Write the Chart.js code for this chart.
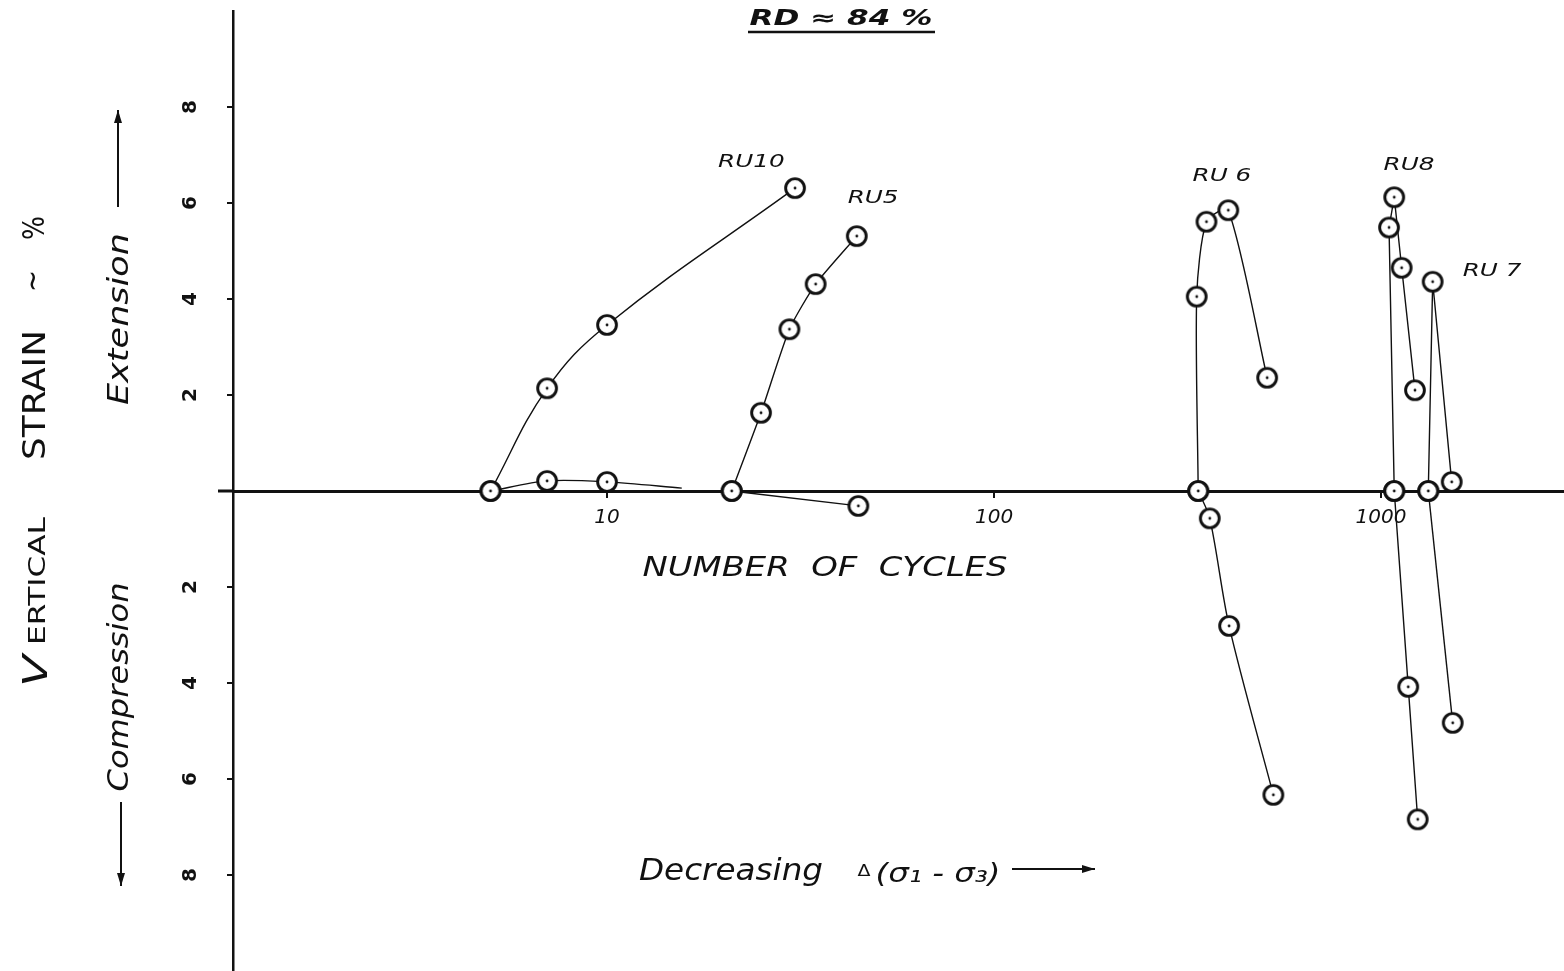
<!DOCTYPE html>
<html>
<head>
<meta charset="utf-8">
<script src="https://cdn.jsdelivr.net/npm/chart.js@4.4.1/dist/chart.umd.min.js"></script>
<style>
  html, body { margin: 0; padding: 0; background: #fff; }
  canvas { display: block; }
</style>
</head>
<body>
<canvas id="strainChart" width="1564" height="971"></canvas>
<script>
// vertical strain (%) against number of cycles, RD ≈ 84 %
const xTicks = [10, 100, 1000];
const yTicks = [-8, -6, -4, -2, 2, 4, 6, 8];

// [cycles, strain %]  (+ extension, - compression)
const ru10Ext = [[5, 0], [7, 2.14], [10, 3.46], [30.6, 6.31]];
const ru10Low = [[5, 0], [7, 0.21], [10, 0.19]];
const ru10LowTail = [15.6, 0.06];
const ru5Ext = [[21, 0], [25, 1.63], [29.6, 3.37], [34.6, 4.31], [44.2, 5.31]];
const ru5Low = [[21, 0], [44.6, -0.31]];
const ru6Ext = [[337, 0], [334, 4.05], [354, 5.61], [403, 5.85], [508, 2.36]];
const ru6Comp = [[337, 0], [361, -0.57], [405, -2.81], [527, -6.33]];
const ru8Ext = [[1082, 0], [1049, 5.49], [1082, 6.12], [1131, 4.65], [1224, 2.10]];
const ru8Comp = [[1082, 0], [1176, -4.08], [1244, -6.84]];
const ru7Ext = [[1325, 0], [1360, 4.36], [1523, 0.19]];
const ru7Comp = [[1325, 0], [1532, -4.83]];

const runNames = ['RU10', 'RU5', 'RU 6', 'RU8', 'RU 7'];
const runNameAt = [[23.6, 6.88], [48.7, 6.13], [388, 6.58], [1181, 6.81], [1936, 4.6]];

const INK = '#111';

function ringMarker() {
    const c = document.createElement('canvas');
    c.width = 26;
    c.height = 26;
    const g = c.getContext('2d');
    g.beginPath();
    g.arc(13, 13, 9.4, 0, Math.PI * 2);
    g.fillStyle = '#fff';
    g.fill();
    g.lineWidth = 2.9;
    g.strokeStyle = INK;
    g.stroke();
    g.beginPath();
    g.arc(13, 13, 1.4, 0, Math.PI * 2);
    g.fillStyle = INK;
    g.fill();
    return c;
}

const pts = arr => arr.map(([x, y]) => ({x, y}));

function curve(arr, tension) {
    return {
        data: pts(arr),
        showLine: true,
        borderColor: INK,
        borderWidth: 1.4,
        tension: tension,
        pointRadius: 0,
        pointHoverRadius: 0,
        order: 1
    };
}

const marked = [ru10Ext, ru10Low, ru5Ext, ru5Low, ru6Ext, ru6Comp, ru8Ext, ru8Comp, ru7Ext, ru7Comp];

// stretched hand-lettering style text
function letter(ctx, text, cx, base, px, width, opts = {}) {
    ctx.save();
    ctx.font = (opts.italic ? 'italic ' : '') + (opts.weight || 'normal') + ' ' + px + 'px "DejaVu Sans"';
    const w = ctx.measureText(text).width;
    ctx.translate(cx, base);
    if (opts.rot) ctx.rotate(opts.rot);
    ctx.scale(width / w, 1);
    ctx.textAlign = 'center';
    ctx.textBaseline = 'alphabetic';
    ctx.fillStyle = INK;
    ctx.fillText(text, 0, 0);
    ctx.restore();
}

function arrow(ctx, x1, y1, x2, y2) {
    const a = Math.atan2(y2 - y1, x2 - x1);
    ctx.save();
    ctx.strokeStyle = INK;
    ctx.fillStyle = INK;
    ctx.lineWidth = 2;
    ctx.beginPath();
    ctx.moveTo(x1, y1);
    ctx.lineTo(x2, y2);
    ctx.stroke();
    ctx.beginPath();
    ctx.moveTo(x2, y2);
    ctx.lineTo(x2 - 13 * Math.cos(a) + 4 * Math.sin(a), y2 - 13 * Math.sin(a) - 4 * Math.cos(a));
    ctx.lineTo(x2 - 13 * Math.cos(a) - 4 * Math.sin(a), y2 - 13 * Math.sin(a) + 4 * Math.cos(a));
    ctx.closePath();
    ctx.fill();
    ctx.restore();
}

const lettering = {
    id: 'lettering',
    beforeDatasetsDraw(chart) {
        // the zero line runs a little past the strain axis
        const ctx = chart.ctx;
        const y0 = chart.scales.y.getPixelForValue(0);
        ctx.save();
        ctx.strokeStyle = INK;
        ctx.lineWidth = 3;
        ctx.beginPath();
        ctx.moveTo(218, y0);
        ctx.lineTo(chart.chartArea.left, y0);
        ctx.stroke();
        ctx.restore();
    },
    afterDraw(chart) {
        const ctx = chart.ctx;
        const xs = chart.scales.x, ys = chart.scales.y;
        const up = -Math.PI / 2;

        // heading
        letter(ctx, 'RD ≈ 84 %', 841, 25, 21, 183, {italic: true, weight: 'bold'});
        ctx.save();
        ctx.strokeStyle = INK;
        ctx.lineWidth = 2.5;
        ctx.beginPath();
        ctx.moveTo(748, 32);
        ctx.lineTo(935, 32);
        ctx.stroke();
        ctx.restore();

        // run names
        runNames.forEach((name, i) => {
            const px = xs.getPixelForValue(runNameAt[i][0]);
            const py = ys.getPixelForValue(runNameAt[i][1]);
            ctx.save();
            ctx.font = 'italic 17px "DejaVu Sans"';
            const w = ctx.measureText(name).width;
            ctx.restore();
            letter(ctx, name, px, py + 6, 17, w * 1.45, {italic: true});
        });

        // x axis captions
        letter(ctx, 'NUMBER  OF  CYCLES', 825, 576, 26, 365, {italic: true});
        letter(ctx, 'Decreasing', 731, 880, 30, 184, {italic: true});
        letter(ctx, 'Δ', 864, 876, 15, 13);
        letter(ctx, '(σ₁ - σ₃)', 938, 882, 27, 125, {italic: true});
        arrow(ctx, 1012, 869, 1095, 869);

        // y axis captions
        letter(ctx, 'V', 47, 671, 34, 32, {rot: up, italic: true});
        letter(ctx, 'ERTICAL', 45, 581, 23, 128, {rot: up});
        letter(ctx, 'STRAIN', 45, 395, 32, 130, {rot: up});
        letter(ctx, '~', 42, 281, 30, 22, {rot: up});
        letter(ctx, '%', 44, 228, 30, 24, {rot: up});

        letter(ctx, 'Extension', 128, 319, 28, 172, {rot: up, italic: true});
        arrow(ctx, 118, 207, 118, 110);
        letter(ctx, 'Compression', 128, 687, 28, 209, {rot: up, italic: true});
        arrow(ctx, 121, 802, 121, 886);
    }
};

const datasets = [
    {
        data: pts(marked.flat()),
        showLine: false,
        pointStyle: ringMarker(),
        pointRadius: 10,
        pointHoverRadius: 10,
        order: 0
    },
    curve(ru10Ext, 0.4),
    curve(ru10Low.concat([ru10LowTail]), 0.3),
    curve(ru5Ext, 0.2),
    curve(ru5Low, 0),
    curve(ru6Ext, 0.25),
    curve(ru6Comp, 0.3),
    curve(ru8Ext, 0),
    curve(ru8Comp, 0),
    curve(ru7Ext, 0),
    curve(ru7Comp, 0)
];

// keep the tick labels from reserving room above and below the plot
function noEdgePadding(scale) {
    scale.paddingTop = 0;
    scale.paddingBottom = 0;
    scale.paddingLeft = 0;
    scale.paddingRight = 0;
}

new Chart(document.getElementById('strainChart'), {
    type: 'scatter',
    data: {datasets: datasets},
    options: {
        responsive: false,
        animation: false,
        devicePixelRatio: 1,
        layout: {autoPadding: false, padding: {top: 11, right: 0, bottom: 0, left: 0}},
        plugins: {
            legend: {display: false},
            tooltip: {enabled: false}
        },
        scales: {
            x: {
                type: 'logarithmic',
                position: {y: 0},
                min: 1.08,
                max: 2971,
                afterFit: noEdgePadding,
                afterBuildTicks: scale => {
                    scale.ticks = xTicks.map(v => ({value: v}));
                },
                grid: {
                    display: true,
                    drawOnChartArea: false,
                    drawTicks: true,
                    tickLength: 5,
                    color: INK,
                    lineWidth: 2
                },
                border: {display: true, color: INK, width: 3},
                ticks: {
                    color: INK,
                    padding: 10,
                    maxRotation: 0,
                    font: {family: 'DejaVu Sans', style: 'italic', size: 20},
                    callback: v => String(v)
                }
            },
            y: {
                type: 'linear',
                position: 'left',
                min: -10,
                max: 10,
                afterFit: scale => {
                    noEdgePadding(scale);
                    scale.width = 233;
                },
                afterBuildTicks: scale => {
                    scale.ticks = yTicks.map(v => ({value: v}));
                },
                grid: {
                    display: true,
                    drawOnChartArea: false,
                    drawTicks: true,
                    tickLength: 6,
                    color: INK,
                    lineWidth: 2
                },
                border: {display: true, color: INK, width: 2.5},
                ticks: {
                    color: INK,
                    padding: 29,
                    crossAlign: 'center',
                    minRotation: 90,
                    maxRotation: 90,
                    font: {family: 'DejaVu Sans', weight: 'bold', size: 20},
                    callback: v => String(Math.abs(v))
                }
            }
        }
    },
    plugins: [lettering]
});
</script>
</body>
</html>
